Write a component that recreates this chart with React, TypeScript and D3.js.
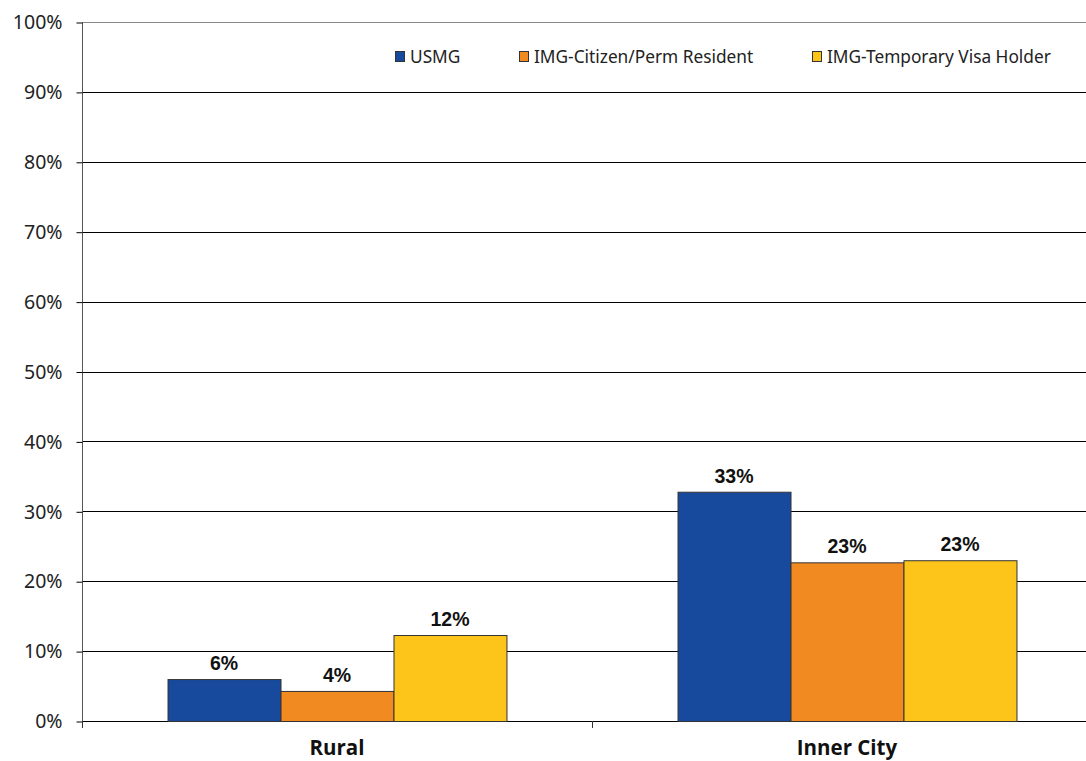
import React, { useRef, useEffect } from "react";
import * as d3 from "d3";

const categories = ["Rural", "Inner City"];
const seriesNames = ["USMG", "IMG-Citizen/Perm Resident", "IMG-Temporary Visa Holder"];
const seriesColors = ["#174a9c", "#f28a22", "#fdc51a"];
// values per series, in category order
const usmg = [6.0, 32.8];
const imgCitizen = [4.3, 22.7];
const imgTemp = [12.3, 23.0];
const valueLabels = [
  ["6%", "33%"],
  ["4%", "23%"],
  ["12%", "23%"],
];
const yTicks = [0, 10, 20, 30, 40, 50, 60, 70, 80, 90, 100];

const App: React.FC = () => {
  const svgRef = useRef<SVGSVGElement | null>(null);

  useEffect(() => {
    const svg = d3.select(svgRef.current);
    svg.selectAll("*").remove();

    const W = 1086;
    const H = 761;
    const left = 82;
    const top = 22;
    const bottom = 721;
    const right = 1102; // plot runs past the picture edge

    const series = [usmg, imgCitizen, imgTemp];

    const x = d3.scaleBand().domain(categories).range([left, right]).padding(0);
    const inner = d3
      .scaleBand()
      .domain(seriesNames)
      .range([0, x.bandwidth()])
      .paddingOuter(0.757)
      .paddingInner(0);
    const y = d3.scaleLinear().domain([0, 100]).range([bottom, top]);

    svg.attr("width", W).attr("height", H);

    // gridlines
    svg
      .append("g")
      .selectAll("line")
      .data(yTicks)
      .enter()
      .append("line")
      .attr("x1", left)
      .attr("x2", right)
      .attr("y1", (d) => Math.round(y(d)) + 0.5)
      .attr("y2", (d) => Math.round(y(d)) + 0.5)
      .attr("stroke", (d) => (d === 100 ? "#888" : "#000"))
      .attr("stroke-width", 1);

    // y axis
    const yAxis = svg
      .append("g")
      .attr("transform", `translate(${left + 0.5},0.5)`)
      .call(
        d3
          .axisLeft(y)
          .tickValues(yTicks)
          .tickSize(6)
          .tickPadding(14)
          .tickFormat((d) => `${d}%`)
      );
    yAxis.select(".domain").attr("stroke", "#555").attr("d", `M0,${top}V${bottom}`);
    yAxis.selectAll(".tick line").attr("stroke", "#000");
    yAxis
      .selectAll(".tick text")
      .attr("font-family", "'Noto Sans', 'Open Sans', sans-serif")
      .attr("font-size", 19.5)
      .attr("fill", "#222");

    // category ticks below axis
    svg
      .append("g")
      .selectAll("line")
      .data([left, x("Inner City")!])
      .enter()
      .append("line")
      .attr("x1", (d) => Math.round(d) + 0.5)
      .attr("x2", (d) => Math.round(d) + 0.5)
      .attr("y1", bottom)
      .attr("y2", bottom + 7)
      .attr("stroke", "#333");

    // category labels
    svg
      .append("g")
      .selectAll("text")
      .data(categories)
      .enter()
      .append("text")
      .attr("x", (d) => x(d)! + x.bandwidth() / 2)
      .attr("y", 755)
      .attr("text-anchor", "middle")
      .attr("font-family", "'Open Sans', 'Noto Sans', sans-serif")
      .attr("font-weight", "bold")
      .attr("font-size", 20.5)
      .attr("fill", "#111")
      .text((d) => d);

    // bars
    series.forEach((vals, si) => {
      const g = svg.append("g");
      g.selectAll("rect")
        .data(vals)
        .enter()
        .append("rect")
        .attr("x", (_, ci) => x(categories[ci])! + inner(seriesNames[si])! + 0.5)
        .attr("y", (d) => y(d) + 0.5)
        .attr("width", inner.bandwidth())
        .attr("height", (d) => y(0) - y(d))
        .attr("fill", seriesColors[si])
        .attr("stroke", "#333")
        .attr("stroke-width", 1);

      g.selectAll("text")
        .data(vals)
        .enter()
        .append("text")
        .attr("x", (_, ci) => x(categories[ci])! + inner(seriesNames[si])! + inner.bandwidth() / 2)
        .attr("y", (d) => y(d) - 9)
        .attr("text-anchor", "middle")
        .attr("font-family", "'Liberation Sans', Arial, sans-serif")
        .attr("font-weight", "bold")
        .attr("font-size", 19.5)
        .attr("fill", "#111")
        .text((_, ci) => valueLabels[si][ci]);
    });

    // legend
    const legendX = [395, 519, 812];
    const legend = svg.append("g");
    seriesNames.forEach((name, i) => {
      legend
        .append("rect")
        .attr("x", legendX[i] + 0.5)
        .attr("y", 51.5)
        .attr("width", 9)
        .attr("height", 10)
        .attr("fill", seriesColors[i])
        .attr("stroke", "#333")
        .attr("stroke-width", 1);
      legend
        .append("text")
        .attr("x", legendX[i] + 15)
        .attr("y", 63)
        .attr("font-family", "'Noto Sans', 'Open Sans', sans-serif")
        .attr("font-size", 17.3)
        .attr("fill", "#222")
        .text(name);
    });
  }, []);

  return (
    <svg
      ref={svgRef}
      style={{ position: "absolute", left: 0, top: 0, display: "block", background: "#fff" }}
    ></svg>
  );
};

export default App;
